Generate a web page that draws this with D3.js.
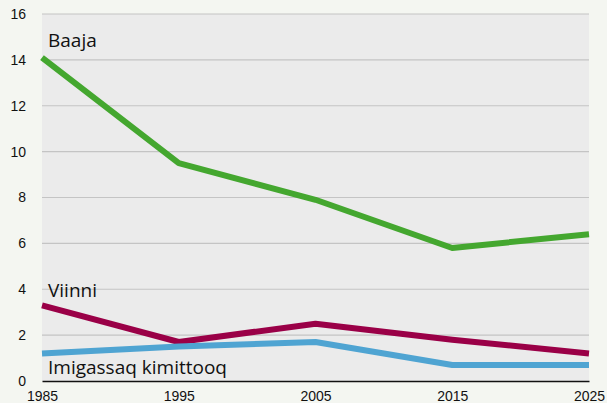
<!DOCTYPE html>
<html>
<head>
<meta charset="utf-8">
<script src="https://cdn.jsdelivr.net/npm/d3@7"></script>
<style>
  html, body { margin: 0; padding: 0; background: #f4f6f1; }
  svg { display: block; }
</style>
</head>
<body>
<svg id="chart"></svg>
<script>
const years = [1985, 1995, 2005, 2015, 2025];
const baaja = [14.1, 9.5, 7.9, 5.8, 6.4];
const viinni = [3.3, 1.7, 2.5, 1.8, 1.2];
const imigassaq = [1.2, 1.5, 1.7, 0.7, 0.7];
const yTicks = [0, 2, 4, 6, 8, 10, 12, 14, 16];

const series = [
  { name: 'Baaja', values: baaja, color: '#44a72f', labelAt: 14.56 },
  { name: 'Viinni', values: viinni, color: '#9a0047', labelAt: 3.66 },
  { name: 'Imigassaq kimittooq', values: imigassaq, color: '#4fa4d2', labelAt: 0.3 }
];

const width = 607, height = 403;
const margin = { top: 14, right: 18, bottom: 22, left: 42 };
const w = width - margin.left - margin.right;
const h = height - margin.top - margin.bottom;

const svg = d3.select('#chart')
  .attr('width', width)
  .attr('height', height);

const g = svg.append('g')
  .attr('transform', `translate(${margin.left},${margin.top})`);

const x = d3.scaleLinear().domain([1985, 2025]).range([0, w]);
const y = d3.scaleLinear().domain([0, 16]).range([h, 0]);

// plot background
g.append('rect')
  .attr('x', 0).attr('y', 0)
  .attr('width', w).attr('height', h)
  .attr('fill', '#ebebeb');

// gridlines
g.selectAll('.grid')
  .data(yTicks.filter(d => d > 0))
  .enter().append('line')
  .attr('x1', 0).attr('x2', w)
  .attr('y1', d => y(d)).attr('y2', d => y(d))
  .attr('stroke', '#c4c4c4')
  .attr('stroke-width', 1.2);

// y axis labels
g.append('g')
  .call(d3.axisLeft(y).tickValues(yTicks).tickSize(0).tickPadding(16))
  .call(a => a.select('.domain').remove())
  .selectAll('text')
  .attr('font-family', 'Liberation Sans, Arial, sans-serif')
  .attr('font-size', 14)
  .attr('fill', '#111');

// x axis
const xAxis = g.append('g')
  .attr('transform', `translate(0,${h})`)
  .call(d3.axisBottom(x).tickValues(years).tickFormat(d3.format('d')).tickSize(0).tickPadding(10));
xAxis.select('.domain').attr('stroke', '#111').attr('stroke-width', 1.5);
xAxis.selectAll('text')
  .attr('font-family', 'Liberation Sans, Arial, sans-serif')
  .attr('font-size', 14)
  .attr('fill', '#111');

const line = d3.line()
  .x((d, i) => x(years[i]))
  .y(d => y(d));

series.forEach(s => {
  g.append('path')
    .datum(s.values)
    .attr('fill', 'none')
    .attr('stroke', s.color)
    .attr('stroke-width', 6)
    .attr('stroke-linejoin', 'round')
    .attr('d', line);
});

// series labels
g.selectAll('.series-label')
  .data(series)
  .enter().append('text')
  .attr('x', 6)
  .attr('y', d => y(d.labelAt))
  .attr('font-family', 'Open Sans, Noto Sans, sans-serif')
  .attr('font-size', 19)
  .attr('fill', '#111')
  .text(d => d.name);
</script>
</body>
</html>
